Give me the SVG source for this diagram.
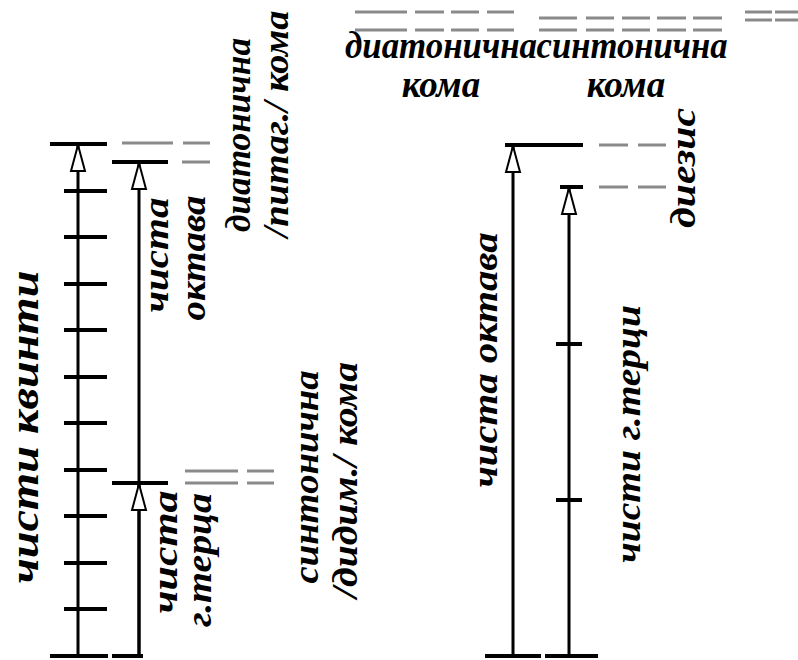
<svg xmlns="http://www.w3.org/2000/svg" width="798" height="660" viewBox="0 0 798 660">
  <style>
    .lvl { stroke: #000; stroke-width: 4; fill: none; }
    .axis { stroke: #000; stroke-width: 3; fill: none; }
    .gap { stroke: #8a8a8a; stroke-width: 3; fill: none; }
    .lbl { font-family: "Liberation Serif", "DejaVu Serif", serif; font-weight: bold; font-style: italic; fill: #000; stroke: none; text-anchor: middle; }
    .s36 { font-size: 37px; }
    .s40 { font-size: 36px; }
    .s46 { font-size: 41px; }
  </style>
  <defs>
    <marker id="openArrow" viewBox="0 0 30 18" refX="28" refY="9" markerWidth="30" markerHeight="18" markerUnits="userSpaceOnUse" orient="auto">
      <path d="M2,2 L28,9 L2,16 Z" fill="#fff" stroke="#000" stroke-width="2" stroke-linejoin="miter"/>
    </marker>
  </defs>
  <rect width="798" height="660" fill="#fff"/>

  <!-- comma gap markers at the top -->
  <g id="top-gaps" class="gap">
    <path d="M355,12H407M415,12H444M451,12H479M487,12H514"/>
    <path d="M355,30H407M415,30H444M451,30H479M487,30H514"/>
    <path d="M539,18H577M586,18H614M622,18H650M657,18H686M693,18H722"/>
    <path d="M539,30H577M586,30H614M622,30H650M657,30H686M693,30H722"/>
    <path d="M745,12H772M775,12H798"/>
    <path d="M745,20H772M775,20H798"/>
  </g>
  <g id="top-labels">
    <text class="lbl s36" x="441" y="58" textLength="192" lengthAdjust="spacingAndGlyphs">диатонична</text>
    <text class="lbl s36" x="441" y="97">кома</text>
    <text class="lbl s36" x="632" y="58" textLength="191" lengthAdjust="spacingAndGlyphs">синтонична</text>
    <text class="lbl s36" x="626" y="97">кома</text>
  </g>

  <!-- twelve fifths -->
  <g id="scale-fifths">
    <path class="lvl" d="M50,144H107"/>
    <path class="lvl" d="M64,191H107M64,237H107M64,284H107M64,330H107M64,377H107M64,423H107M64,470H107M64,516H107M64,563H107M64,609H107"/>
    <path class="lvl" d="M50,656H108"/>
    <text class="lbl s46" transform="translate(38,427) rotate(-90)" textLength="313" lengthAdjust="spacingAndGlyphs">чисти квинти</text>
  </g>

  <!-- seven octaves and three major thirds -->
  <g id="scale-octaves">
    <path class="lvl" d="M112,162H168"/>
    <path class="lvl" d="M112,483H168"/>
    <path class="lvl" d="M112,656H143"/>
    <text class="lbl s40" transform="translate(168,255) rotate(-90)" textLength="115" lengthAdjust="spacingAndGlyphs">чиста</text>
    <text class="lbl s40" transform="translate(205,258) rotate(-90)" textLength="125" lengthAdjust="spacingAndGlyphs">октава</text>
    <text class="lbl s40" transform="translate(177,552) rotate(-90)" textLength="123" lengthAdjust="spacingAndGlyphs">чиста</text>
    <text class="lbl s40" transform="translate(211,560) rotate(-90)" textLength="134" lengthAdjust="spacingAndGlyphs">г.терца</text>
  </g>

  <g id="pythagorean-comma">
    <path class="gap" d="M122,143H173M183,143H210M182,162H210"/>
    <text class="lbl s40" transform="translate(250,135) rotate(-90)" textLength="194" lengthAdjust="spacingAndGlyphs">диатонична</text>
    <text class="lbl s40" transform="translate(288,124) rotate(-90)" textLength="227" lengthAdjust="spacingAndGlyphs">/питаг./ кома</text>
  </g>

  <g id="syntonic-comma">
    <path class="gap" d="M185,471H238M247,471H274M185,483H238M247,483H274"/>
    <text class="lbl s40" transform="translate(318,477) rotate(-90)" textLength="213" lengthAdjust="spacingAndGlyphs">синтонична</text>
    <text class="lbl s40" transform="translate(357,480) rotate(-90)" textLength="236" lengthAdjust="spacingAndGlyphs">/дидим./ кома</text>
  </g>

  <!-- one octave against three major thirds -->
  <g id="scale-octave">
    <path class="lvl" d="M505,145H583"/>
    <path class="lvl" d="M485,656H541"/>
    <text class="lbl s40" transform="translate(497,360) rotate(-90)" textLength="255" lengthAdjust="spacingAndGlyphs">чиста октава</text>
  </g>
  <g id="scale-thirds">
    <path class="lvl" d="M560,187H583"/>
    <path class="lvl" d="M556,344H582M556,500H582"/>
    <path class="lvl" d="M545,656H598"/>
    <text class="lbl s40" transform="translate(640,434) rotate(-90)" textLength="258" lengthAdjust="spacingAndGlyphs">чисти г.терци</text>
  </g>
  <g id="diesis">
    <path class="gap" d="M599,145H628M638,145H666M599,187H628M638,187H666"/>
    <text class="lbl s40" transform="translate(695,168) rotate(-90)" textLength="120" lengthAdjust="spacingAndGlyphs">диезис</text>
  </g>

  <!-- interval spans, drawn upward to the arrowheads -->
  <g id="connectors" class="axis">
    <line x1="78" y1="656" x2="78" y2="145" marker-end="url(#openArrow)"/>
    <line x1="139" y1="656" x2="139" y2="163" marker-end="url(#openArrow)"/>
    <line x1="139" y1="656" x2="139" y2="484" marker-end="url(#openArrow)"/>
    <line x1="513" y1="656" x2="513" y2="146" marker-end="url(#openArrow)"/>
    <line x1="569" y1="656" x2="569" y2="188" marker-end="url(#openArrow)"/>
  </g>
</svg>
